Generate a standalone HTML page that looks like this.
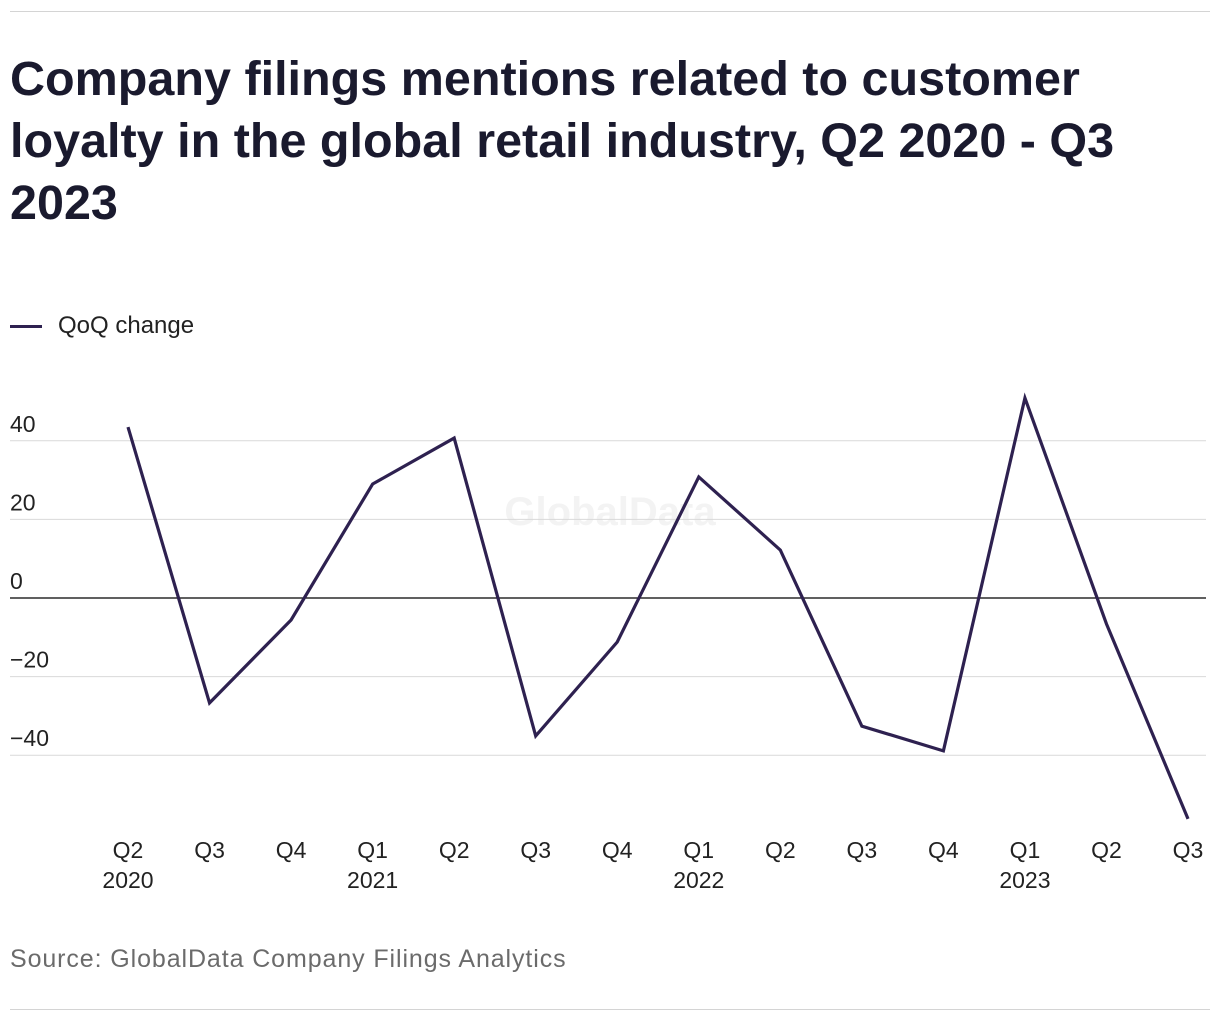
<!DOCTYPE html>
<html><head><meta charset="utf-8"><style>
body{margin:0;background:#fff;font-family:"Liberation Sans",sans-serif;}
#wrap{position:relative;width:1220px;height:1020px;overflow:hidden;}
.rule{position:absolute;left:10px;width:1200px;height:1px;background:#d4d4d4;}
h1{position:absolute;left:10px;top:48px;margin:0;width:1150px;font-size:48.5px;line-height:62px;font-weight:bold;color:#1a1a2e;}
.legend{position:absolute;left:10px;top:312px;font-size:24px;color:#222;display:flex;align-items:center;}
.legend span.sw{display:inline-block;width:32px;height:3px;background:#2e2150;margin-right:16px;}
.src{position:absolute;left:10px;top:945px;font-size:25px;letter-spacing:0.9px;color:#6b6b6b;}
</style></head><body>
<div id="wrap">
<div class="rule" style="top:11px"></div>
<h1>Company filings mentions related to customer loyalty in the global retail industry, Q2 2020 - Q3 2023</h1>
<div class="legend"><span class="sw"></span>QoQ change</div>
<svg id="chart" width="1220" height="1020" style="position:absolute;left:0;top:0"></svg>
<div class="src">Source: GlobalData Company Filings Analytics</div>
<div class="rule" style="top:1009px"></div>
</div>
<script>
const quarters=["Q2","Q3","Q4","Q1","Q2","Q3","Q4","Q1","Q2","Q3","Q4","Q1","Q2","Q3"];
const years=["2020","","","2021","","","","2022","","","","2023","",""];
const values=[43.5,-26.7,-5.6,29,40.7,-35.1,-11.2,30.8,12.2,-32.6,-38.9,50.9,-6.6,-56.2];
const yTicks=[-40,-20,0,20,40];
const NS="http://www.w3.org/2000/svg";
const svg=document.getElementById('chart');
const x0=128,dx=81.54,yZero=598,pxPer=3.93;
const xs=i=>x0+i*dx, ys=v=>yZero-v*pxPer;
function mk(t,a){const e=document.createElementNS(NS,t);for(const k in a)e.setAttribute(k,a[k]);svg.appendChild(e);return e;}
const wm=mk('text',{x:610,y:525,'text-anchor':'middle','font-size':40,'font-weight':'bold',fill:'#f3f3f3','font-family':'Liberation Sans'});
wm.textContent='GlobalData';


yTicks.forEach(v=>{
 const l=mk('line',{x1:10,x2:1206,y1:ys(v),y2:ys(v),stroke:v===0?'#000':'#d9d9d9','stroke-width':v===0?1.3:1});
 
 
 const t=mk('text',{x:10,y:ys(v)-9,'font-size':23,fill:'#222','font-family':'Liberation Sans'});
 t.textContent=v<0?'\u2212'+Math.abs(v):String(v);
 
 
});
quarters.forEach((q,i)=>{
 const t=mk('text',{x:xs(i),y:858,'text-anchor':'middle','font-size':23,fill:'#222','font-family':'Liberation Sans'});
 t.textContent=q;
 
 
 if(years[i]){const y=mk('text',{x:xs(i),y:888,'text-anchor':'middle','font-size':23,fill:'#222','font-family':'Liberation Sans'});
 y.textContent=years[i];
 
 }
});
const p=mk('polyline',{points:values.map((v,i)=>xs(i)+','+ys(v)).join(' '),fill:'none',stroke:'#2e2150','stroke-width':3.2,'stroke-linejoin':'miter'});


</script>
</body></html>
